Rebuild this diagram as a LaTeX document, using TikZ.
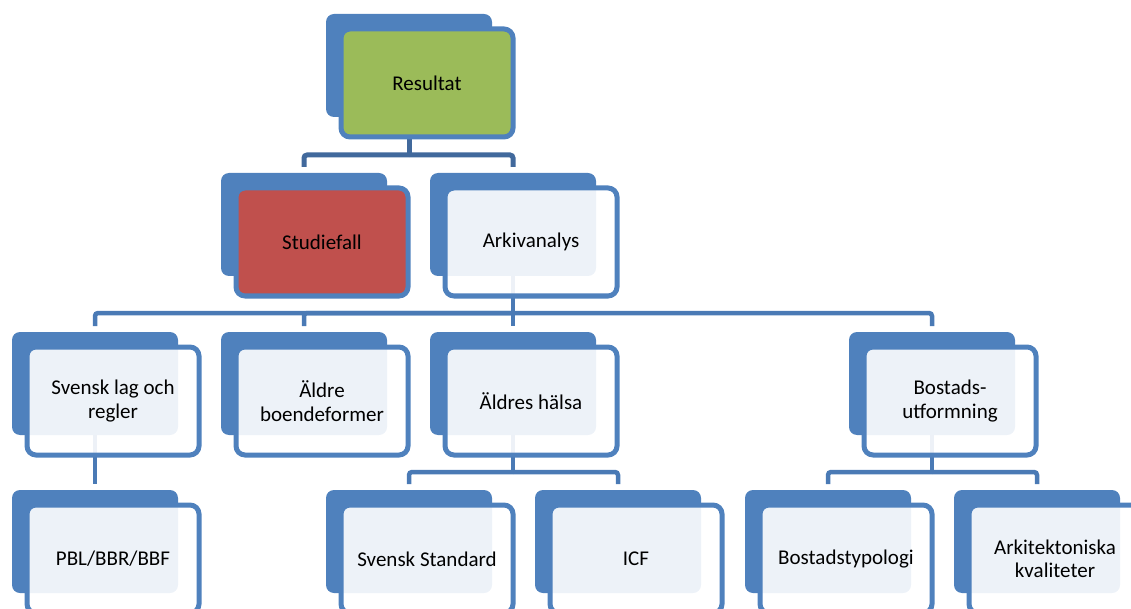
\documentclass[tikz,border=0pt]{standalone}
\usepackage{fontspec}
\setmainfont{Carlito}
\usetikzlibrary{backgrounds}
\definecolor{acc}{HTML}{4F81BD}
\definecolor{conA}{HTML}{41699C}
\definecolor{conB}{HTML}{4A7AB5}
\definecolor{grn}{HTML}{9BBB59}
\definecolor{rd}{HTML}{C0504D}
\tikzset{
  backbox/.style={draw=none, fill=acc, rounded corners=8pt, minimum width=166pt,
    minimum height=103pt, inner sep=0pt, outer sep=0pt, anchor=north west},
  frontbox/.style={draw=acc, line width=5pt, rounded corners=9pt, minimum width=172pt,
    minimum height=108pt, inner sep=0pt, outer sep=0pt, anchor=north west, align=center,
    font=\fontsize{21}{23.5}\selectfont, text=black, text opacity=1},
  light/.style={fill=white, fill opacity=0.9},
  greenfill/.style={fill=grn},
  redfill/.style={fill=rd},
  conn/.style={line width=4.5pt, draw=conB, rounded corners=3pt},
  conntop/.style={conn, line width=5pt, draw=conA},
}
\newcommand\mybox[5]{%
  \node[backbox] (#1b) at (#2,#3) {};
  \node[frontbox, #4] (#1) at (#2+15,#3+15) {#5};}
\begin{document}
\begin{tikzpicture}[x=1pt,y=-1pt]
\useasboundingbox (0,0) rectangle (1131,609);
\clip (0,0) rectangle (1131,609);
% row 1
\mybox{res}{326}{14}{greenfill}{Resultat}
% row 2
\mybox{stu}{221}{173}{redfill}{Studiefall}
\mybox{ark}{430}{173}{light}{Arkivanalys}
% row 3
\mybox{svl}{12}{332}{light}{Svensk lag och\\regler}
\mybox{ald}{221}{332}{light}{Äldre\\boendeformer}
\mybox{alh}{430}{332}{light}{Äldres hälsa}
\mybox{bos}{849}{332}{light}{Bostads-\\utformning}
% row 4
\mybox{pbl}{12}{490}{light}{PBL/BBR/BBF}
\mybox{sst}{326}{490}{light}{Svensk Standard}
\mybox{icf}{535}{490}{light}{ICF}
\mybox{bty}{745}{490}{light}{Bostadstypologi}
\mybox{akv}{954}{490}{light}{Arkitektoniska\\kvaliteter}
\begin{pgfonlayer}{background}
  \coordinate (j1) at (resb.south |- 0,155);
  \draw[conntop] (resb.south) -- (j1);
  \draw[conntop] (j1) -| ([yshift=6pt]stub.north);
  \draw[conntop] (j1) -| ([yshift=6pt]arkb.north);
  \coordinate (j2) at (arkb.south |- 0,313);
  \draw[conn] (arkb.south) -- (j2);
  \draw[conn] (j2) -| ([yshift=6pt]svlb.north);
  \draw[conn] (j2) -| ([yshift=6pt]aldb.north);
  \draw[conn] (j2) -- ([yshift=6pt]alhb.north);
  \draw[conn] (j2) -| ([yshift=6pt]bosb.north);
  \draw[conn] (svlb.south) -- ([yshift=6pt]pblb.north);
  \coordinate (j3) at (alhb.south |- 0,472);
  \draw[conn] (alhb.south) -- (j3);
  \draw[conn] (j3) -| ([yshift=6pt]sstb.north);
  \draw[conn] (j3) -| ([yshift=6pt]icfb.north);
  \coordinate (j4) at (bosb.south |- 0,472);
  \draw[conn] (bosb.south) -- (j4);
  \draw[conn] (j4) -| ([yshift=6pt]btyb.north);
  \draw[conn] (j4) -| ([yshift=6pt]akvb.north);
\end{pgfonlayer}
\end{tikzpicture}
\end{document}
